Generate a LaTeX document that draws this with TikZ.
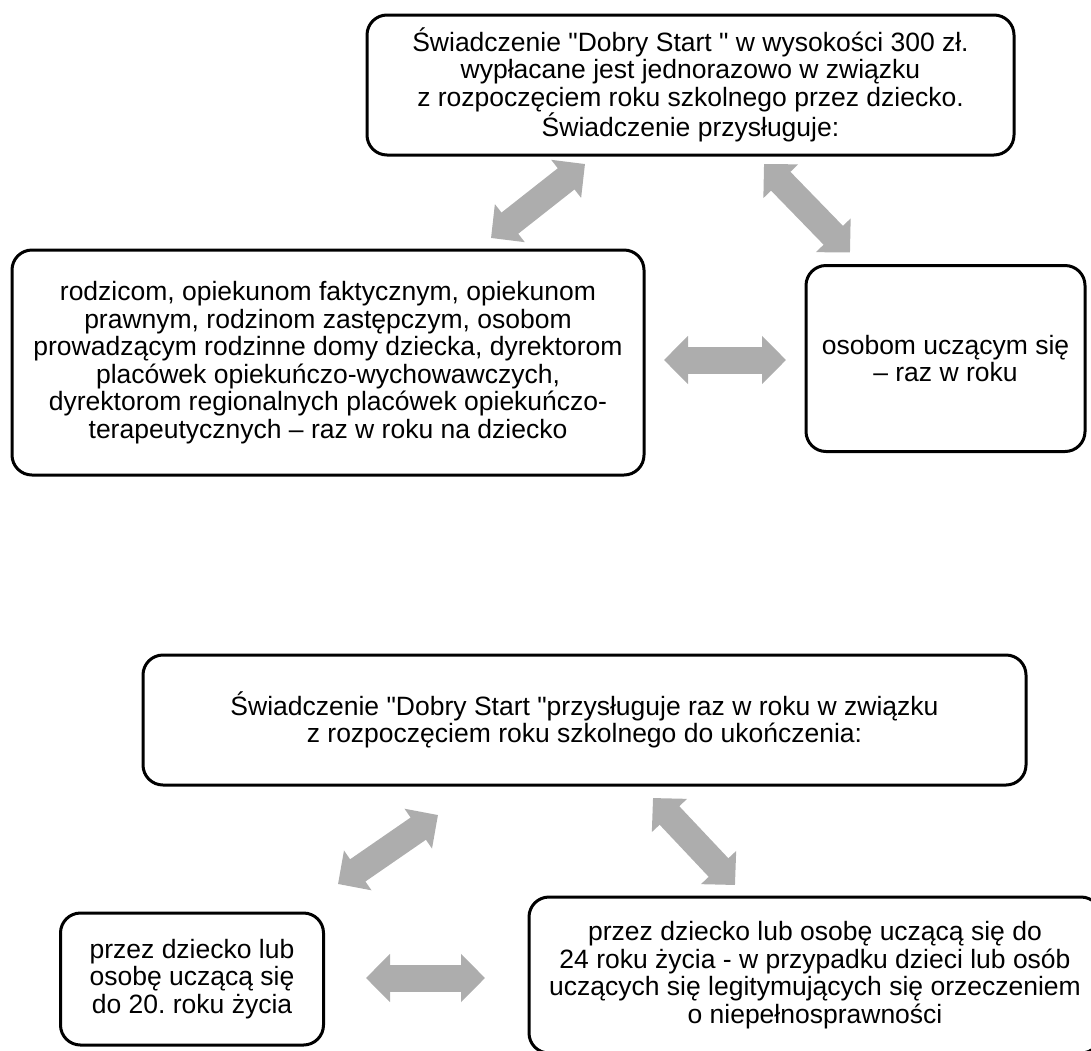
\documentclass[tikz,border=0pt]{standalone}
\usepackage{fontspec}
\setmainfont{Liberation Sans}
\usepackage{tikz}
\usetikzlibrary{arrows.meta, calc}
\definecolor{arrowgray}{RGB}{173, 173, 173}

\begin{document}
\begin{tikzpicture}[x=1pt, y=-1pt,
    box/.style={draw, line width=3pt, rounded corners=20pt, align=center,
      inner sep=0pt, outer sep=0pt, font=\fontsize{26.5}{27.5}\selectfont\frenchspacing},
    dblarrow/.style={arrowgray, line width=27pt,
      {Triangle[width=47pt, length=24pt]}-{Triangle[width=47pt, length=24pt]}}]
  \useasboundingbox (0,0) rectangle (1091,1050);
  \clip (0,0) rectangle (1091,1050);

  \node[box, minimum width=647pt, minimum height=140pt] (top1) at (690.5,85)
    {Świadczenie \textquotedbl Dobry Start \textquotedbl{} w wysokości 300 zł.\\
     wypłacane jest jednorazowo w związku\\
     z rozpoczęciem roku szkolnego przez dziecko.\\
     Świadczenie przysługuje:};
  \node[box, minimum width=632pt, minimum height=225pt] (left1) at (328,362.5)
    {rodzicom, opiekunom faktycznym, opiekunom\\
     prawnym, rodzinom zastępczym, osobom\\
     prowadzącym rodzinne domy dziecka, dyrektorom\\
     placówek opiekuńczo-wychowawczych,\\
     dyrektorom regionalnych placówek opiekuńczo-\\
     terapeutycznych – raz w roku na dziecko};
  \node[box, minimum width=279pt, minimum height=186pt] (right1) at (945.5,358.5)
    {osobom uczącym się\\ – raz w roku};

  \draw[dblarrow] ($(left1.north east)+(-153,-12)$) -- ($(top1.south west)+(218,9)$);
  \draw[dblarrow] ($(top1.south west)+(397,9)$) -- ($(right1.north west)+(44,-13)$);
  \draw[dblarrow] ($(left1.east)+(20,-2.5)$) -- ($(right1.west)+(-20,1.5)$);

  \node[box, minimum width=883pt, minimum height=130pt] (top2) at (584.5,720)
    {Świadczenie \textquotedbl Dobry Start \textquotedbl przysługuje raz w roku w związku\\
     z rozpoczęciem roku szkolnego do ukończenia:};
  \node[box, minimum width=263pt, minimum height=132pt] (left2) at (192,979)
    {przez dziecko lub\\ osobę uczącą się\\ do 20. roku życia};
  \node[box, minimum width=572pt, minimum height=156pt] (right2) at (815,975)
    {przez dziecko lub osobę uczącą się do\\
     24 roku życia - w przypadku dzieci lub osób\\
     uczących się legitymujących się orzeczeniem\\
     o niepełnosprawności};

  \draw[dblarrow] ($(left2.north east)+(14.5,-29)$) -- ($(top2.south west)+(295,30)$);
  \draw[dblarrow] ($(top2.south west)+(510,13)$) -- ($(right2.north west)+(206,-12)$);
  \draw[dblarrow] ($(left2.east)+(42.5,-1)$) -- ($(right2.west)+(-44,3)$);
\end{tikzpicture}
\end{document}
